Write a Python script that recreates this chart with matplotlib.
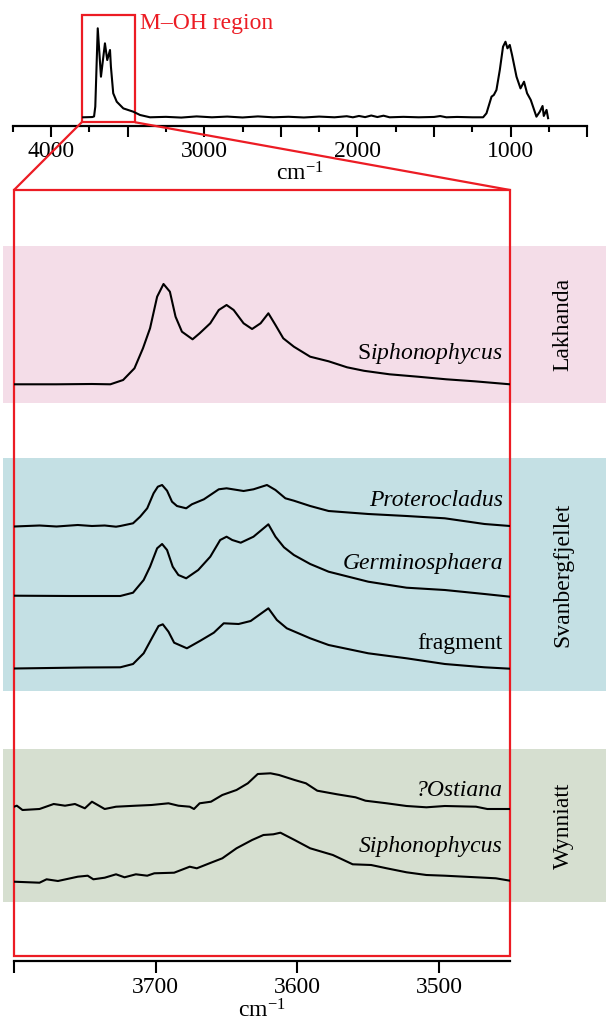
import numpy as np
import matplotlib
matplotlib.use("Agg")
import matplotlib.pyplot as plt
from matplotlib.patches import Rectangle, ConnectionPatch

plt.rcParams['font.family'] = ['Liberation Serif', 'DejaVu Serif']
plt.rcParams['mathtext.fontset'] = 'custom'
plt.rcParams['mathtext.rm'] = 'Liberation Serif'
plt.rcParams['mathtext.it'] = 'Liberation Serif:italic'

# ---- full-range spectrum (top panel) ----
full_wn = [3790, 3730, 3719, 3711, 3695, 3674, 3648, 3633, 3615, 3609, 3594, 3571,
           3528, 3463, 3419, 3354, 3250, 3150, 3050, 2950, 2850, 2750, 2650, 2550,
           2450, 2350, 2250, 2150, 2070, 2030, 1990, 1950, 1910, 1870, 1830, 1790,
           1700, 1600, 1500, 1460, 1420, 1350, 1250, 1180, 1158, 1125, 1110, 1093,
           1071, 1050, 1034, 1021, 1006, 991, 962, 936, 913, 893, 869, 854, 832,
           810, 792, 784, 766, 756]
full_ab = [0.0, 0.003, 0.01, 0.12, 1.0, 0.456, 0.831, 0.643, 0.756, 0.568, 0.27, 0.175,
           0.10, 0.063, 0.026, 0.0, 0.005, -0.003, 0.01, 0.0, 0.008, -0.002, 0.01, 0.0,
           0.006, -0.002, 0.008, 0.0, 0.012, 0.0, 0.015, 0.002, 0.02, 0.003, 0.018, 0.0,
           0.005, 0.0, 0.004, 0.014, 0.0, 0.004, 0.0, 0.0, 0.045, 0.232, 0.251, 0.307,
           0.532, 0.793, 0.849, 0.775, 0.813, 0.70, 0.456, 0.325, 0.40, 0.27, 0.195,
           0.119, 0.007, 0.063, 0.127, 0.015, 0.083, -0.01]

# ---- M-OH region spectra (bottom panel) ----
lak_siph_wn = [3800, 3770, 3745, 3732, 3723, 3715, 3709, 3704, 3699, 3694.5, 3690, 3686,
               3681.5, 3674, 3669, 3661.5, 3655.5, 3650, 3645, 3638, 3632, 3626, 3620.5,
               3615.5, 3610, 3602.5, 3591, 3578, 3565, 3553, 3535, 3515, 3495, 3475, 3450]
lak_siph_ab = [0.0, 0.0, 0.003, 0.0, 0.043, 0.16, 0.36, 0.56, 0.876, 1.003, 0.926, 0.676,
               0.526, 0.45, 0.51, 0.61, 0.743, 0.793, 0.743, 0.61, 0.553, 0.61, 0.71,
               0.593, 0.46, 0.376, 0.276, 0.23, 0.17, 0.135, 0.10, 0.076, 0.05, 0.03, 0.0]

prot_wn = [3800, 3782, 3770, 3755, 3745, 3736, 3728, 3725, 3716, 3711, 3706, 3701.5,
           3698.5, 3695.5, 3692, 3688.5, 3685, 3678.5, 3674.5, 3666, 3655.5, 3650, 3638,
           3631, 3621.5, 3615.5, 3608.5, 3602.5, 3591, 3578, 3550, 3523, 3496, 3468, 3450]
prot_ab = [0.0, 0.01, 0.0, 0.015, 0.005, 0.01, -0.002, 0.005, 0.032, 0.098, 0.182, 0.332,
           0.398, 0.415, 0.358, 0.248, 0.205, 0.182, 0.222, 0.272, 0.372, 0.382, 0.355,
           0.372, 0.415, 0.365, 0.282, 0.258, 0.205, 0.155, 0.125, 0.105, 0.082, 0.025, 0.005]

germ_wn = [3800, 3760, 3725, 3716, 3708.5, 3704, 3699, 3695.5, 3692, 3688, 3684, 3678.5,
           3670, 3661.5, 3654.5, 3650, 3646, 3640, 3631, 3620.5, 3615.5, 3609.5, 3602.5,
           3591, 3578, 3550, 3523, 3496, 3468, 3450]
germ_ab = [0.003, 0.0, 0.0, 0.033, 0.16, 0.293, 0.477, 0.52, 0.46, 0.293, 0.21, 0.177,
           0.26, 0.393, 0.56, 0.593, 0.56, 0.533, 0.593, 0.717, 0.593, 0.487, 0.41,
           0.32, 0.243, 0.143, 0.083, 0.06, 0.02, -0.007]

frag_wn = [3800, 3750, 3725, 3716, 3708.5, 3701.5, 3698, 3695, 3691, 3687, 3678, 3668.5,
           3659, 3652, 3641.5, 3633, 3620.5, 3614.5, 3607.5, 3591, 3578, 3550, 3523, 3496,
           3468, 3450]
frag_ab = [0.0, 0.01, 0.012, 0.045, 0.152, 0.335, 0.425, 0.442, 0.368, 0.258, 0.202, 0.278,
           0.358, 0.452, 0.445, 0.475, 0.602, 0.485, 0.402, 0.302, 0.235, 0.152, 0.102, 0.045,
           0.012, -0.002]

ost_wn = [3800, 3798, 3794, 3782, 3772, 3764, 3757, 3750, 3745, 3736, 3728, 3714,
          3703, 3691, 3684, 3676, 3673, 3669, 3661, 3653, 3643, 3635, 3628, 3619,
          3613, 3602, 3594, 3586, 3572, 3559, 3552, 3537, 3523, 3509, 3496, 3474,
          3466, 3450]
ost_ab = [0.003, 0.013, -0.03, -0.02, 0.03, 0.013, 0.03, -0.013, 0.053, -0.02, 0.003, 0.013,
          0.02, 0.037, 0.013, 0.003, -0.02, 0.037, 0.053, 0.12, 0.17, 0.237, 0.33, 0.337,
          0.32, 0.27, 0.237, 0.163, 0.127, 0.097, 0.063, 0.037, 0.01, -0.003, 0.01, 0.003,
          -0.02, -0.02]

wyn_siph_wn = [3800, 3782, 3777, 3769, 3755, 3748, 3744, 3736, 3728, 3722, 3714, 3706,
               3701, 3687, 3676, 3671, 3661, 3653, 3643, 3632, 3624, 3617, 3612, 3602,
               3591, 3575, 3561, 3548, 3537, 3523, 3509, 3496, 3482, 3460, 3450]
wyn_siph_ab = [-0.002, -0.012, 0.022, 0.005, 0.048, 0.058, 0.022, 0.038, 0.072, 0.042, 0.072, 0.058,
               0.082, 0.088, 0.148, 0.132, 0.188, 0.232, 0.332, 0.415, 0.465, 0.472, 0.488, 0.415,
               0.332, 0.265, 0.172, 0.165, 0.132, 0.092, 0.065, 0.058, 0.048, 0.032, 0.008]

spectra = [(lak_siph_wn, lak_siph_ab), (prot_wn, prot_ab), (germ_wn, germ_ab),
           (frag_wn, frag_ab), (ost_wn, ost_ab), (wyn_siph_wn, wyn_siph_ab)]
names = [r'S$\mathit{iphonophycus}$', 'Proterocladus', 'Germinosphaera', 'fragment',
         '?Ostiana', 'Siphonophycus']
italic = [False, True, True, False, True, True]
groups = ['Lakhanda', 'Svanbergfjellet', 'Wynniatt']

# layout
offsets = [5.764, 4.342, 3.647, 2.922, 1.537, 0.792]
label_y = [6.07, 4.607, 3.974, 3.174, 1.707, 1.14]
band_px = [(246, 403.3), (458.3, 690.7), (749, 902)]
band_colors = ['#f4dde8', '#c4e0e4', '#d6dfd0']
red = '#ec1c24'
fs = 17
W, H = 606, 1023

fig = plt.figure(figsize=(W/100, H/100), dpi=100)

for (t, b), c in zip(band_px, band_colors):
    fig.patches.append(Rectangle((3/W, 1-b/H), 1-3/W, (b-t)/H, transform=fig.transFigure,
                                 facecolor=c, edgecolor='none', zorder=-5))

# top panel
ax1 = fig.add_axes([12.7/W, 1-125.7/H, (587.3-12.7)/W, 115.7/H])
ax1.patch.set_visible(False)
ax1.plot(full_wn, full_ab, color='k', lw=1.5, solid_joinstyle='round')
ax1.set_xlim(4250, 500)
ax1.set_ylim(-0.0944, 1.2056)
ax1.set_xticks(np.arange(4000, 499, -500))
ax1.set_xticklabels(['4000', '', '3000', '', '2000', '', '1000', ''])
ax1.set_xticks(np.arange(4250, 499, -500), minor=True)
ax1.tick_params(axis='x', which='major', direction='out', length=8, width=1.5, labelsize=fs, pad=3)
ax1.tick_params(axis='x', which='minor', direction='out', length=4.5, width=1.5)
ax1.set_yticks([])
for s in ['left', 'right', 'top']:
    ax1.spines[s].set_visible(False)
ax1.spines['bottom'].set_linewidth(1.6)
ax1.set_xlabel('cm$^{-1}$', fontsize=fs, labelpad=0)
ax1.add_patch(Rectangle((3800, -0.0562), -350, 1.2056, fill=False, edgecolor=red,
                        lw=1.6, clip_on=False))
fig.text(140/W, 1-24/H, 'M\u2013OH region', color=red, fontsize=fs, va='center', ha='left')

# bottom panel
ax2 = fig.add_axes([14/W, 1-960.7/H, 496/W, 770.7/H])
ax2.patch.set_visible(False)
for (wn, ab), off in zip(spectra, offsets):
    ax2.plot(wn, np.asarray(ab) + off, color='k', lw=1.5, solid_joinstyle='round')
for name, it, ly in zip(names, italic, label_y):
    ax2.text(3455, ly, name, fontsize=fs, ha='right', va='center',
             fontstyle='italic' if it else 'normal')
ax2.set_xlim(3800, 3450)
ax2.set_ylim(0, 7.707)
ax2.set_xticks([3800, 3700, 3600, 3500])
ax2.set_xticklabels(['', '3700', '3600', '3500'])
ax2.tick_params(axis='x', direction='out', length=8.5, width=1.5, labelsize=fs, pad=3)
ax2.set_yticks([])
for s in ['left', 'right', 'top']:
    ax2.spines[s].set_visible(False)
ax2.spines['bottom'].set_linewidth(1.6)
ax2.set_xlabel('cm$^{-1}$', fontsize=fs, labelpad=1.5)
ax2.add_patch(Rectangle((0, 5/770.7), 1, 1-5/770.7, transform=ax2.transAxes, fill=False,
                        edgecolor=red, lw=1.6, clip_on=False))

for xa, xb in [(3800, 0), (3450, 1)]:
    con = ConnectionPatch(xyA=(xa, -0.0562), coordsA=ax1.transData,
                          xyB=(xb, 1), coordsB=ax2.transAxes, color=red, lw=1.6)
    fig.add_artist(con)

for g, (t, b) in zip(groups, band_px):
    fig.text(563/W, 1-(t+b)/2/H, g, rotation=90, fontsize=fs, ha='center', va='center')

plt.savefig('out.png', dpi=100)
plt.close()
